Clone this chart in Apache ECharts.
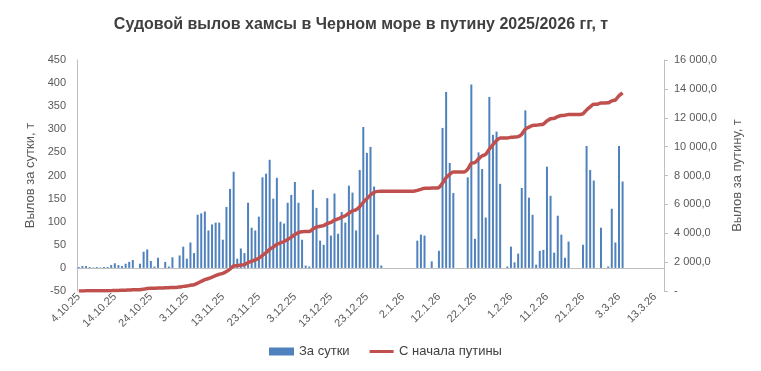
<!DOCTYPE html>
<html><head><meta charset="utf-8">
<script src="https://cdn.jsdelivr.net/npm/echarts@6/dist/echarts.min.js"></script>
<style>html,body{margin:0;padding:0;background:#fff}#c{width:761px;height:371px}</style>
</head><body><div id="c"></div>
<script>
const titleText = 'Судовой вылов хамсы в Черном море в путину 2025/2026 гг, т';
const seriesNames = ['За сутки', 'С начала путины'];
const startDate = [2025, 10, 4];
const dayCount = 163;
// daily catch, t (4.10.25 .. 4.3.26)
const daily = [
 2,4,4,2,1,2,1,2,2,6,
 10,6,4,9,13,17,0,9,35,40,
 15,3,22,0,13,3,23,0,27,46,
 20,55,32,115,118,122,81,94,98,98,
 61,132,171,208,20,42,32,141,87,81,
 111,196,204,234,150,195,100,96,141,158,
 186,141,61,5,3,169,130,59,50,151,
 70,161,74,121,98,178,163,81,212,305,
 249,262,176,72,5,0,0,0,0,0,
 0,0,0,0,59,72,70,0,14,0,
 37,303,381,227,162,0,0,0,196,397,
 63,250,214,109,370,288,295,182,0,3,
 46,12,31,173,341,152,115,7,37,39,
 219,156,33,113,72,22,57,0,0,0,
 50,264,212,189,0,87,0,3,128,55,
 264,187
];
// cumulative catch since season start, t
const cumulative = [
 2,6,10,12,13,15,16,18,20,26,
 36,42,46,55,68,85,85,94,129,169,
 184,187,209,209,222,225,248,248,275,321,
 341,396,430,545,665,785,865,960,1060,1160,
 1220,1350,1520,1730,1750,1790,1830,1970,2060,2150,
 2270,2460,2660,2890,3040,3230,3330,3430,3570,3730,
 3910,4050,4110,4115,4120,4290,4420,4480,4530,4680,
 4750,4910,4990,5110,5210,5390,5550,5630,5840,6140,
 6390,6650,6830,6900,6910,6910,6910,6910,6910,6910,
 6910,6910,6910,6910,6970,7040,7110,7110,7130,7130,
 7170,7470,7850,8080,8240,8240,8240,8240,8440,8840,
 8900,9150,9360,9470,9840,10130,10420,10600,10600,10600,
 10650,10660,10690,10860,11200,11350,11470,11480,11520,11560,
 11780,11930,11960,12080,12150,12170,12230,12230,12230,12230,
 12280,12540,12750,12940,12940,13030,13030,13040,13170,13230,
 13520,13730
];
const leftTicks = {min: -50, max: 450, step: 50};
const rightTicks = {min: 0, max: 16000, step: 2000};

const categories = [];
{
  const d = new Date(startDate[0], startDate[1]-1, startDate[2]);
  for (let i = 0; i < dayCount; i++) {
    categories.push(d.getDate() + '.' + (d.getMonth()+1) + '.' + String(d.getFullYear()).slice(2));
    d.setDate(d.getDate()+1);
  }
}
const barData = categories.map((c,i) => i < daily.length ? daily[i] : null);
const lineData = categories.map((c,i) => i < cumulative.length ? cumulative[i] : null);

function fmtRight(v){
  if (v === 0) return '-';
  const s = String(Math.round(v)).replace(/\B(?=(\d{3})+(?!\d))/g, ' ');
  return s + ',0';
}
const gray = '#595959';
const axisGray = '#bfbfbf';
const font = 'Liberation Sans, Arial, sans-serif';
const lineIcon = 'path://M0,0h30v0.01h-30z M0,3.2h30v3.6h-30z M0,9.99h30v0.01h-30z';

const chart = echarts.init(document.getElementById('c'), null, {renderer:'canvas'});
chart.setOption({
  animation: false,
  backgroundColor: '#fff',
  textStyle: {fontFamily: font},
  title: {
    text: titleText, left: 356, top: 12, textAlign: 'center',
    textStyle: {fontSize: 16, fontWeight: 'bold', color: '#404040', fontFamily: font}
  },
  legend: {
    left: 264, top: 340, itemGap: 20, itemWidth: 25, itemHeight: 8,
    textStyle: {fontSize: 13, color: '#404040', fontFamily: font},
    data: [{name: seriesNames[0], icon: 'rect'}, {name: seriesNames[1], icon: lineIcon}]
  },
  grid: {left: 77, right: 97, top: 60, bottom: 80, containLabel: false},
  xAxis: {
    type: 'category', data: categories, boundaryGap: true,
    axisLine: {show: true, onZero: true, onZeroAxisIndex: 0, lineStyle: {color: axisGray, width: 1}},
    axisTick: {show: false},
    axisLabel: {interval: 9, rotate: 45, color: gray, fontSize: 11, margin: 4, fontFamily: font},
    splitLine: {show: false}
  },
  yAxis: [
    {
      type: 'value', min: leftTicks.min, max: leftTicks.max, interval: leftTicks.step,
      name: 'Вылов за сутки, т', nameLocation: 'middle', nameGap: 37, nameRotate: 90,
      nameTextStyle: {fontSize: 13, color: gray, fontFamily: font},
      axisLine: {show: true, lineStyle: {color: axisGray}},
      axisTick: {show: false},
      axisLabel: {color: gray, fontSize: 11, margin: 11, fontFamily: font},
      splitLine: {show: false}
    },
    {
      type: 'value', min: rightTicks.min, max: rightTicks.max, interval: rightTicks.step,
      position: 'right',
      name: 'Вылов за путину, т', nameLocation: 'middle', nameGap: 67, nameRotate: 90,
      nameTextStyle: {fontSize: 13, color: gray, fontFamily: font},
      axisLine: {show: true, lineStyle: {color: axisGray}},
      axisTick: {show: true, length: 4, lineStyle: {color: axisGray}},
      axisLabel: {color: gray, fontSize: 11, margin: 10, formatter: fmtRight, fontFamily: font},
      splitLine: {show: false}
    }
  ],
  series: [
    {
      name: seriesNames[0], type: 'bar', yAxisIndex: 0, data: barData,
      barWidth: 2, itemStyle: {color: '#4f81bd'}
    },
    {
      name: seriesNames[1], type: 'line', yAxisIndex: 1, data: lineData,
      symbol: 'none', smooth: 0.3, connectNulls: false,
      lineStyle: {color: '#c0504d', width: 3.5}, itemStyle: {color: '#c0504d'}
    }
  ]
});
</script></body></html>
